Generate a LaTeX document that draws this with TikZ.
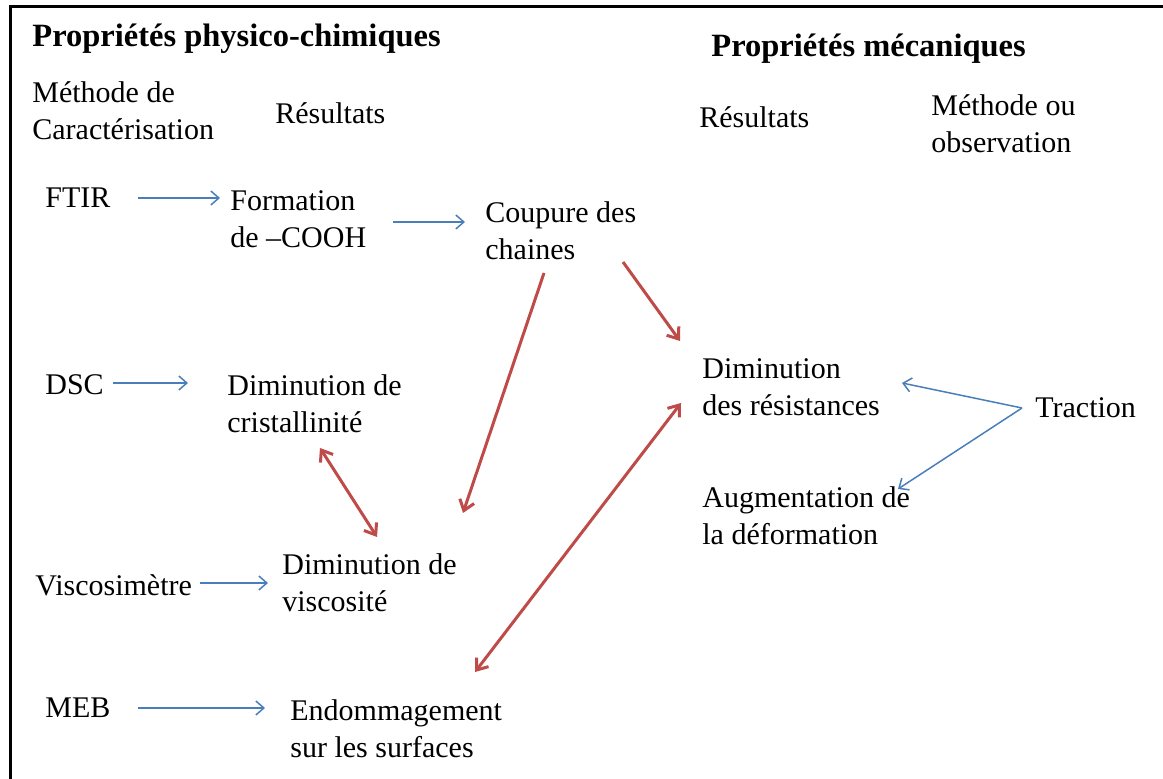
\documentclass[tikz,border=0pt]{standalone}
\usepackage{fontspec}
\setmainfont{Liberation Serif}
\usepackage{xcolor}
\usetikzlibrary{calc,arrows.meta}
\definecolor{fbleu}{HTML}{4A7EBB}
\definecolor{frouge}{HTML}{BE4B48}

\begin{document}
\begin{tikzpicture}[x=0.5pt,y=-0.5pt,
	texte/.style={anchor=west,inner sep=0pt,align=left,font=\fontsize{15}{18.5}\selectfont},
	titre/.style={anchor=base west,inner sep=0pt,font=\fontsize{16.25}{19}\selectfont\bfseries},
	bleu/.style={draw=fbleu,line width=0.75pt,-{Straight Barb[length=4pt,width=7pt]}},
	rouge/.style={draw=frouge,line width=1.5pt,-{Straight Barb[length=5pt,width=7.5pt]}},
	rouge2/.style={rouge,{Straight Barb[length=5pt,width=7.5pt]}-{Straight Barb[length=5pt,width=7.5pt]}}]
	\useasboundingbox (0,0) rectangle (1163,779);
	\draw[line width=1.5pt] (10,779) -- (10,7) -- (1163,7);
	% titres et colonnes
	\node[titre] (titrePC) at (32,47) {Propriétés physico-chimiques};
	\node[titre] (titreMeca) at (711,57) {Propriétés mécaniques};
	\node[texte] (methodeCar) at (32,111) {Méthode de\\Caractérisation};
	\node[texte] (resultatsPC) at (275,113) {Résultats};
	\node[texte] (resultatsMeca) at (699,117) {Résultats};
	\node[texte] (methodeObs) at (931,124) {Méthode ou\\observation};
	% methodes et resultats
	\node[texte] (ftir) at (45,198) {FTIR};
	\node[texte] (formation) at (230,219) {Formation\\de –COOH};
	\node[texte] (coupure) at (485,231) {Coupure des\\chaines};
	\node[texte] (dsc) at (45,385) {DSC};
	\node[texte] (cristal) at (227,404) {Diminution de\\cristallinité};
	\node[texte] (visco) at (35,585) {Viscosimètre};
	\node[texte] (viscosite) at (282,583) {Diminution de\\viscosité};
	\node[texte] (meb) at (45,708) {MEB};
	\node[texte] (endom) at (290,729) {Endommagement\\sur les surfaces};
	\node[texte] (resist) at (702,387) {Diminution\\des résistances};
	\node[texte] (augment) at (702,516) {Augmentation de\\la déformation};
	\node[texte] (traction) at (1035,408) {Traction};
	% fleches bleues
	\draw[bleu] ($(ftir.west)+(93,0)$) -- ($(formation.west)+(-10,-21)$);
	\draw[bleu] ($(formation.west)+(163,3)$) -- ($(coupure.west)+(-20,-9)$);
	\draw[bleu] ($(dsc.west)+(68,-2)$) -- ($(cristal.west)+(-39,-21)$);
	\draw[bleu] ($(visco.west)+(165,-2)$) -- ($(viscosite.west)+(-14,0)$);
	\draw[bleu] ($(meb.west)+(93,0)$) -- ($(endom.west)+(-25,-21)$);
	\draw[bleu] ($(traction.west)+(-13,0)$) -- ($(resist.west)+(200,-4)$);
	\draw[bleu] ($(traction.west)+(-13,0)$) -- ($(augment.west)+(196,-27)$);
	% fleches rouges
	\draw[rouge] ($(coupure.west)+(59,42)$) -- ($(viscosite.west)+(181,-70)$);
	\draw[rouge] ($(coupure.west)+(138,31)$) -- ($(resist.west)+(-22,-46)$);
	\draw[rouge2] ($(cristal.west)+(93,44)$) -- ($(viscosite.west)+(95,-46)$);
	\draw[rouge2] ($(endom.west)+(185,-57)$) -- ($(resist.west)+(-21,16)$);
\end{tikzpicture}
\end{document}
